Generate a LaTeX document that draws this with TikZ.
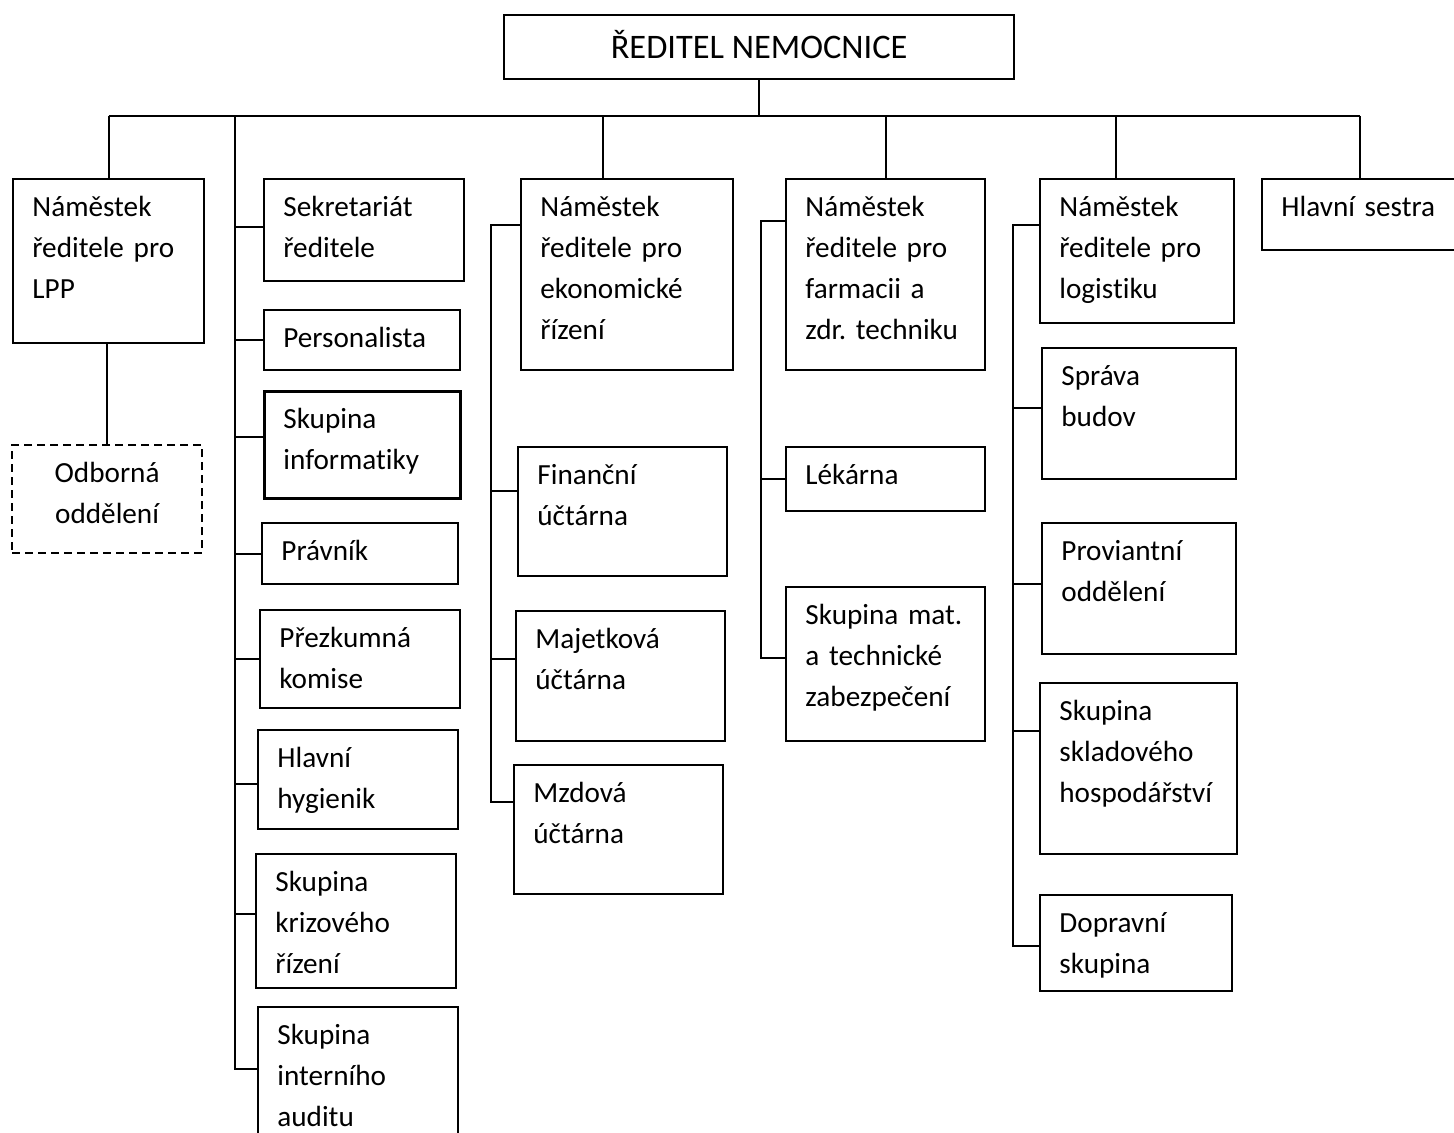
\documentclass[tikz,border=0pt]{standalone}
\usepackage{fontspec}
\setmainfont{Carlito}[Ligatures=CommonOff]

\begin{document}
\begin{tikzpicture}[
    x=0.5pt, y=-0.5pt,
    boxsize/.style 2 args={minimum width=#1*0.5pt, minimum height=#2*0.5pt},
    unit/.style={draw, line width=1.1pt, anchor=north west, inner sep=0pt},
    txt/.style={inner sep=0pt, yshift=-4.6pt, text width=86pt, font=\fontsize{14.6pt}{20.5pt}\selectfont\frenchspacing, execute at begin node=\strut},
    unittext/.style={txt, anchor=north west, align=left, xshift=10pt},
    midtext/.style={txt, anchor=north, align=center},
    link/.style={line width=0.9pt}
]

\useasboundingbox (0,0) rectangle (1454,1133);

% Director
\node[unit, boxsize={510}{64}, font=\fontsize{17.2pt}{20.5pt}\selectfont, text height=11.2pt, text depth=0pt] (dir) at (503,14) {ŘEDITEL NEMOCNICE};

% Deputy for LPP
\node[unit, boxsize={191}{164}, label={[unittext]north west:{Náměstek\\ředitele pro\\LPP}}] (lpp) at (12,178) {};
\node[unit, dash pattern=on 4pt off 2.5pt, boxsize={190}{108}, label={[midtext]north:{Odborná\\oddělení}}] (odb) at (11,444) {};

% Staff units of the director
\node[unit, boxsize={200}{102}, label={[unittext]north west:{Sekretariát\\ředitele}}] (sek) at (263,178) {};
\node[unit, boxsize={196}{60}, label={[unittext]north west:{Personalista}}] (pers) at (263,309) {};
\node[unit, line width=1.3pt, boxsize={196}{107}, label={[unittext]north west:{Skupina\\informatiky}}] (inf) at (263,390) {};
\node[unit, boxsize={196}{61}, label={[unittext]north west:{Právník}}] (prav) at (261,522) {};
\node[unit, boxsize={200}{98}, label={[unittext]north west:{Přezkumná\\komise}}] (prez) at (259,609) {};
\node[unit, boxsize={200}{99}, label={[unittext]north west:{Hlavní\\hygienik}}] (hyg) at (257,729) {};
\node[unit, boxsize={200}{134}, label={[unittext]north west:{Skupina\\krizového\\řízení}}] (kriz) at (255,853) {};
\node[unit, boxsize={200}{135}, label={[unittext]north west:{Skupina\\interního\\auditu}}] (aud) at (257,1006) {};

% Economic deputy
\node[unit, boxsize={212}{191}, label={[unittext]north west:{Náměstek\\ředitele pro\\ekonomické\\řízení}}] (eko) at (520,178) {};
\node[unit, boxsize={209}{129}, label={[unittext]north west:{Finanční\\účtárna}}] (fin) at (517,446) {};
\node[unit, boxsize={209}{130}, label={[unittext]north west:{Majetková\\účtárna}}] (maj) at (515,610) {};
\node[unit, boxsize={209}{129}, label={[unittext]north west:{Mzdová\\účtárna}}] (mzd) at (513,764) {};

% Pharmacy deputy
\node[unit, boxsize={199}{191}, label={[unittext]north west:{Náměstek\\ředitele pro\\farmacii a\\zdr. techniku}}] (far) at (785,178) {};
\node[unit, boxsize={199}{64}, label={[unittext]north west:{Lékárna}}] (lek) at (785,446) {};
\node[unit, boxsize={199}{154}, label={[unittext]north west:{Skupina mat.\\a technické\\zabezpečení}}] (mat) at (785,586) {};

% Logistics deputy
\node[unit, boxsize={194}{144}, label={[unittext]north west:{Náměstek\\ředitele pro\\logistiku}}] (log) at (1039,178) {};
\node[unit, boxsize={194}{131}, label={[unittext]north west:{Správa\\budov}}] (spr) at (1041,347) {};
\node[unit, boxsize={194}{131}, label={[unittext]north west:{Proviantní\\oddělení}}] (prov) at (1041,522) {};
\node[unit, boxsize={197}{171}, label={[unittext]north west:{Skupina\\skladového\\hospodářství}}] (skl) at (1039,682) {};
\node[unit, boxsize={192}{96}, label={[unittext]north west:{Dopravní\\skupina}}] (dop) at (1039,894) {};

% Head nurse
\node[unit, boxsize={196}{71}, label={[unittext]north west:{Hlavní sestra}}] (ses) at (1261,178) {};

% bus and branch points
\coordinate (bus) at (761,116);
\coordinate (colS) at (235,116);
\coordinate (dropE) at (603,116);
\coordinate (dropL) at (1116,116);
\coordinate (sideE) at (491,224);
\coordinate (sideF) at (761,220);
\coordinate (sideL) at (1013,224);

\draw[link] (dir.south) -- (dir.south |- bus);
\draw[link] (lpp.north |- bus) -- (ses.north |- bus);
\foreach \n in {lpp, far, ses}
  \draw[link] (\n.north |- bus) -- (\n.north);
\draw[link] (dropE) -- (dropE |- eko.north);
\draw[link] (dropL) -- (dropL |- log.north);
\draw[link] (lpp.south -| odb.north) -- (odb.north);

% side branches
\foreach \n/\s in {sek/-3, pers/0, inf/-7.5, prav/0, prez/0, hyg/4.5, kriz/-7, aud/-5.5}
  \draw[link] (\n.west) ++(0,\s) -| (colS);
\foreach \n/\s in {eko/-49.5, fin/-20.5, maj/-17, mzd/-27.5}
  \draw[link] (\n.west) ++(0,\s) -| (sideE);
\foreach \n/\s in {far/-53.5, lek/0, mat/-6}
  \draw[link] (\n.west) ++(0,\s) -| (sideF);
\foreach \n/\s in {log/-26, spr/-5.5, prov/-4.5, skl/-37.5, dop/3}
  \draw[link] (\n.west) ++(0,\s) -| (sideL);

\end{tikzpicture}
\end{document}
